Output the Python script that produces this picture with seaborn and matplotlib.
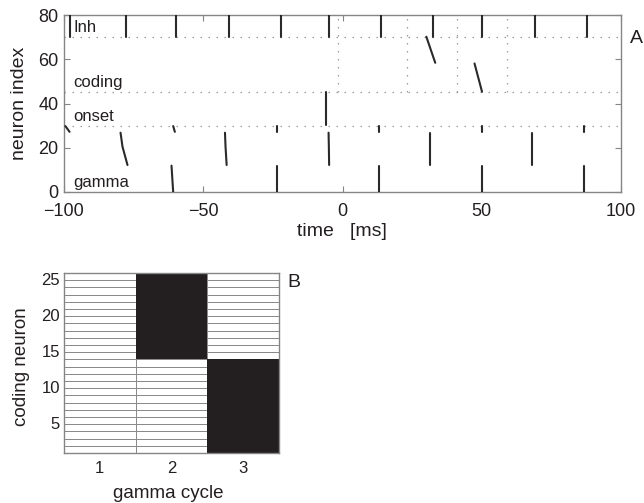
import numpy as np
import pandas as pd
import matplotlib
matplotlib.use("Agg")
import matplotlib.pyplot as plt
import seaborn as sns
from matplotlib.colors import ListedColormap

# ---------------- panel A: spike raster ----------------
# inhibitory population (neurons 70-80), one volley per half gamma cycle
inh_times = [-97.7, -77.8, -59.8, -40.9, -22.2, -4.8, 13.9, 32.5, 50.1, 69.0, 87.9]

# gamma population, early sub-group (neurons 12-27): time at top / middle / bottom neuron
gamma_hi_top = [-79.7, -42.2, -5.0, 31.5, 68.0]
gamma_hi_mid = [-79.0, -42.0, -4.9, 31.5, 68.0]
gamma_hi_bot = [-77.2, -41.6, -4.8, 31.5, 68.0]

# gamma population, late sub-group (neurons 0-12)
gamma_lo_top = [-61.4, -23.6, 13.0, 50.0, 86.7]
gamma_lo_bot = [-60.8, -23.6, 13.0, 50.0, 86.7]

# gamma neurons 27-30 firing together with the late sub-group
gamma_edge_top = [-99.5, -60.8, -23.5, 13.0, 50.0, 86.7]
gamma_edge_bot = [-98.0, -60.2, -23.5, 13.0, 50.0, 86.7]

# onset population (neurons 30-45)
onset_times = [-6.0]

# coding population (neurons 45-70): start and end point of each volley
coding_t_start = [30.1, 47.4]
coding_n_start = [70.2, 58.1]
coding_t_end = [33.3, 50.1]
coding_n_end = [58.4, 45.3]

# population boundaries and gamma-cycle markers in the coding block
group_bounds = [30, 45, 70]
cycle_marks = [-1.5, 23.2, 41.2, 59.1]

group_names = ["Inh", "coding", "onset", "gamma"]
group_label_y = [72.4, 47.6, 32.0, 2.1]

a_xticks = [-100, -50, 0, 50, 100]
a_yticks = [0, 20, 40, 60, 80]

# ---------------- panel B: coding neuron activity per gamma cycle ----------------
gamma_cycles = [1, 2, 3]
n_coding = 25
# gamma cycle in which each coding neuron (1..25) fires
active_cycle = [3] * 13 + [2] * 12
b_yticks = [5, 10, 15, 20, 25]

# ---------------- build spike segments ----------------
rows = []


def add_spike(sid, points):
    for t, n in points:
        rows.append({"spike": sid, "time": t, "neuron": n})


sid = 0
for t in inh_times:
    add_spike(sid, [(t, 70), (t, 80)]); sid += 1
for t0, tm, t1 in zip(gamma_hi_top, gamma_hi_mid, gamma_hi_bot):
    add_spike(sid, [(t0, 26.8), (tm, 20.5), (t1, 12.2)]); sid += 1
for t0, t1 in zip(gamma_lo_top, gamma_lo_bot):
    add_spike(sid, [(t0, 11.9), (t1, 0)]); sid += 1
for t0, t1 in zip(gamma_edge_top, gamma_edge_bot):
    add_spike(sid, [(t0, 29.8), (t1, 27.2)]); sid += 1
for t in onset_times:
    add_spike(sid, [(t, 30.3), (t, 45.0)]); sid += 1
for ts, ns, te, ne in zip(coding_t_start, coding_n_start, coding_t_end, coding_n_end):
    add_spike(sid, [(ts, ns), (te, ne)]); sid += 1

spikes = pd.DataFrame(rows)

# activity matrix: rows = coding neuron 1..25, columns = gamma cycle
activity = pd.DataFrame(
    [[1 if active_cycle[i] == c else 0 for c in gamma_cycles] for i in range(n_coding)],
    index=range(1, n_coding + 1), columns=gamma_cycles,
)

# ---------------- figure ----------------
sns.set_theme(style="ticks")
plt.rcParams["font.family"] = ["Liberation Sans", "DejaVu Sans"]
plt.rcParams["axes.unicode_minus"] = True

W, H = 644, 503
fig = plt.figure(figsize=(W / 100, H / 100), dpi=100)


def frac(x0, y0, x1, y1):
    return [x0 / W, 1 - y1 / H, (x1 - x0) / W, (y1 - y0) / H]


spine_col = "#858585"
text_col = "#231f20"
ink = "#2a2a2a"
dot_col = "#9c9c9c"
dotted = (0, (1.2, 5.2))

# ---- panel A ----
axA = fig.add_axes(frac(64, 15, 621, 192))
for y in group_bounds:
    axA.axhline(y, color=dot_col, lw=0.9, ls=dotted, zorder=1)
axA.vlines(cycle_marks, 45, 80, colors=dot_col, lw=0.9, linestyles=[dotted], zorder=1)

sns.lineplot(data=spikes, x="time", y="neuron", units="spike", estimator=None,
             sort=False, color=ink, lw=1.5, legend=False, ax=axA, zorder=3)

axA.set_xlim(-100, 100)
axA.set_ylim(0, 80)
axA.set_xticks(a_xticks)
axA.set_yticks(a_yticks)
axA.set_xlabel("")
axA.set_ylabel("")
axA.tick_params(direction="in", length=4, width=0.8, color=spine_col,
                top=True, right=True, labelsize=13, labelcolor=text_col)
axA.tick_params(axis="x", pad=8)
axA.tick_params(axis="y", pad=4)
for s in axA.spines.values():
    s.set_visible(True)
    s.set_color(spine_col)
    s.set_linewidth(1.0)

for name, y in zip(group_names, group_label_y):
    axA.text(-96.6, y, name, fontsize=12, color=text_col, va="baseline", ha="left", zorder=4)

fig.text(20 / W, 1 - 103 / H, "neuron index", rotation=90, ha="center", va="center",
         fontsize=14, color=text_col)
fig.text(341.5 / W, 1 - 231 / H, "time   [ms]", ha="center", va="center",
         fontsize=14, color=text_col)
fig.text(636 / W, 1 - 38.5 / H, "A", ha="center", va="center", fontsize=14, color=text_col)

# ---- panel B ----
axB = fig.add_axes(frac(64, 273, 279, 453))
# every cell outlined in grey, then the active cells painted solid on top
sns.heatmap(activity, cmap=ListedColormap(["white", "#231f20"]), cbar=False,
            linewidths=0.5, linecolor="#8a8a8a", ax=axB, vmin=0, vmax=1)
sns.heatmap(activity, mask=(activity == 0), cmap=ListedColormap(["white", "#231f20"]),
            cbar=False, linewidths=0, ax=axB, vmin=0, vmax=1)
axB.set_ylim(0, n_coding)
axB.set_xlim(0, len(gamma_cycles))
axB.set_xticks([c - 0.5 for c in gamma_cycles])
axB.set_xticklabels([str(c) for c in gamma_cycles], rotation=0)
axB.set_yticks([v - 1 for v in b_yticks])
axB.set_yticklabels([str(v) for v in b_yticks], rotation=0)
axB.set_xlabel("")
axB.set_ylabel("")
axB.tick_params(direction="in", length=3, width=0.8, color=spine_col,
                labelsize=12, labelcolor=text_col)
axB.tick_params(axis="x", pad=6)
axB.tick_params(axis="y", pad=3)
for s in axB.spines.values():
    s.set_visible(True)
    s.set_color(spine_col)
    s.set_linewidth(1.0)

fig.text(21.5 / W, 1 - 367 / H, "coding neuron", rotation=90, ha="center", va="center",
         fontsize=13.5, color=text_col)
fig.text(168 / W, 1 - 494 / H, "gamma cycle", ha="center", va="center",
         fontsize=13.5, color=text_col)
fig.text(293.5 / W, 1 - 282.5 / H, "B", ha="center", va="center", fontsize=14, color=text_col)

fig.savefig("out.png", dpi=100)
